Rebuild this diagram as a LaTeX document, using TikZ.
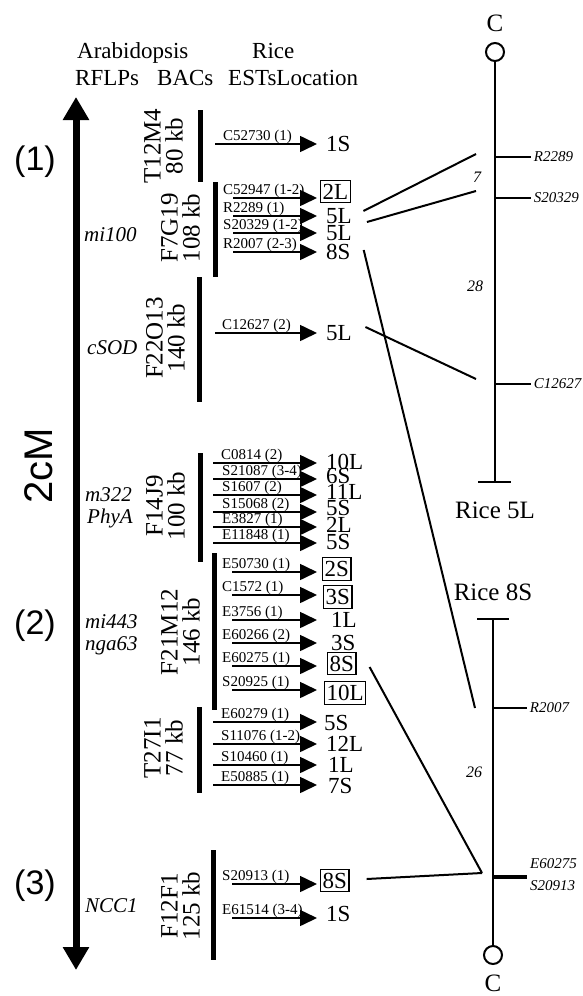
\documentclass[tikz,border=0pt]{standalone}
\usepackage{fontspec}
\setmainfont{Liberation Serif}
\newfontfamily\helvf{Liberation Sans}
\usetikzlibrary{arrows.meta}
\newcommand\fsz[1]{\fontsize{#1}{#1}\selectfont}
\newcommand\estrow[9]{%
  \coordinate (s#1) at (#2,#3);
  \coordinate (t#1) at (317,#3);
  \node[estlab] (n#1) at (#4,#3-4) {#5};
  \node[#6] (l#1) at (#7,#8) {#9};
  \draw[estarrow] (s#1) -- (t#1);
}
\begin{document}
\begin{tikzpicture}[x=1pt,y=-1pt,
  estarrow/.style={line width=1.6pt,-{Triangle[length=17pt,width=16pt]}},
  estlab/.style={anchor=base west,inner sep=0pt,font=\fsz{15}},
  locl/.style={anchor=west,inner sep=1pt,font=\fsz{23}},
  locb/.style={locl,draw,line width=1.3pt,inner xsep=2pt,inner ysep=3.5pt},
  bacbar/.style={line width=5pt},
  baclab/.style={rotate=90,anchor=south,align=center,inner sep=0pt,font=\fontsize{25}{22}\selectfont},
  connl/.style={line width=2pt},
  chromln/.style={line width=2.3pt},
  tickln/.style={line width=1.8pt},
  mklab/.style={anchor=west,inner sep=0pt,font=\fsz{15}\itshape},
  distlab/.style={inner sep=0pt,font=\fsz{16}\itshape},
  rflp/.style={anchor=west,inner sep=0pt,font=\fsz{21}\itshape},
  hdr/.style={anchor=base west,inner sep=0pt,font=\fsz{23}},
  numlab/.style={inner sep=0pt,font=\helvf\fsz{34}},
  bigt/.style={inner sep=0pt,font=\fsz{25}},
  cen/.style={circle,draw,line width=2pt,minimum size=18pt,inner sep=0pt}
]
\useasboundingbox (0,0) rectangle (582,996);

% headers
\node[hdr] (h1) at (77,58) {Arabidopsis};
\node[hdr] (h2) at (252,58) {Rice};
\node[hdr] (h3) at (75,85) {RFLPs};
\node[hdr] (h4) at (157,85) {BACs};
\node[hdr] (h5) at (228,85) {ESTsLocation};

% main genetic axis
\coordinate (axtop) at (76,97);
\coordinate (axbot) at (76,970);
\draw[line width=7pt,{Triangle[length=23pt,width=25pt]}-{Triangle[length=23pt,width=25pt]}] (axtop) -- (axbot);

\node[numlab] (num1) at (35,162) {(1)};
\node[numlab] (num2) at (35,626) {(2)};
\node[numlab] (num3) at (35,886) {(3)};
\node[inner sep=0pt,font=\helvf\fsz{40},rotate=90] (cm) at (39,466) {2cM};

% RFLPs
\node[rflp] (r1) at (84,235) {mi100};
\node[rflp] (r2) at (87,348) {cSOD};
\node[rflp] (r3) at (85,495) {m322};
\node[rflp] (r4) at (87,518) {PhyA};
\node[rflp] (r5) at (85,622) {mi443};
\node[rflp] (r6) at (85,646) {nga63};
\node[rflp] (r7) at (85,906) {NCC1};

% BAC bars
\coordinate (b1t) at (200,110); \coordinate (b1b) at (200,182);
\coordinate (b2t) at (215,182); \coordinate (b2b) at (215,277);
\coordinate (b3t) at (199,277); \coordinate (b3b) at (199,402);
\coordinate (b4t) at (200,453); \coordinate (b4b) at (200,562);
\coordinate (b5t) at (214,553); \coordinate (b5b) at (214,710);
\coordinate (b6t) at (199,707); \coordinate (b6b) at (199,793);
\coordinate (b7t) at (213,850); \coordinate (b7b) at (213,960);
\foreach \i in {1,...,7} {\draw[bacbar] (b\i t) -- (b\i b);}

% BAC labels
\node[baclab] (L1) at (183,146) {T12M4\\80 kb};
\node[baclab] (L2) at (200,228) {F7G19\\108 kb};
\node[baclab] (L3) at (185,338) {F22O13\\140 kb};
\node[baclab] (L4) at (185,506) {F14J9\\100 kb};
\node[baclab] (L5) at (200,632) {F21M12\\146 kb};
\node[baclab] (L6) at (183,748) {T27I1\\77 kb};
\node[baclab] (L7) at (200,906) {F12F1\\125 kb};

% EST rows
\estrow{1}{215}{144}{223}{C52730 (1)}{locl}{325}{144}{1S}
\estrow{2}{233}{198}{223}{C52947 (1-2)}{locb}{320}{191.5}{2L}
\estrow{3}{233}{216}{223}{R2289 (1)}{locl}{325}{216}{5L}
\estrow{4}{233}{233}{223}{S20329 (1-2)}{locl}{325}{233}{5L}
\estrow{5}{233}{252}{223}{R2007 (2-3)}{locl}{325}{252}{8S}
\estrow{6}{215}{333}{222}{C12627 (2)}{locl}{325}{333}{5L}
\estrow{7}{213}{463}{221}{C0814 (2)}{locl}{325}{462}{10L}
\estrow{8}{213}{479}{222}{S21087 (3-4)}{locl}{325}{476}{6S}
\estrow{9}{213}{495}{222}{S1607 (2)}{locl}{325}{492}{11L}
\estrow{10}{213}{512}{222}{S15068 (2)}{locl}{325}{508}{5S}
\estrow{11}{213}{527}{222}{E3827 (1)}{locl}{325}{525}{2L}
\estrow{12}{213}{543}{222}{E11848 (1)}{locl}{325}{542}{5S}
\estrow{13}{232}{572}{222}{E50730 (1)}{locb}{322}{569}{2S}
\estrow{14}{232}{595}{222}{C1572 (1)}{locb}{323}{597}{3S}
\estrow{15}{232}{620}{222}{E3756 (1)}{locl}{330}{620}{1L}
\estrow{16}{232}{643}{222}{E60266 (2)}{locl}{330}{643}{3S}
\estrow{17}{232}{666}{222}{E60275 (1)}{locb}{327}{663.5}{8S}
\estrow{18}{232}{690}{222}{S20925 (1)}{locb}{324}{693}{10L}
\estrow{19}{213}{722}{221}{E60279 (1)}{locl}{323}{723}{5S}
\estrow{20}{213}{744}{221}{S11076 (1-2)}{locl}{325}{744}{12L}
\estrow{21}{213}{765}{221}{S10460 (1)}{locl}{327}{765}{1L}
\estrow{22}{213}{785}{221}{E50885 (1)}{locl}{327}{786}{7S}
\estrow{23}{232}{884}{222}{S20913 (1)}{locb}{320}{880.5}{8S}
\estrow{24}{232}{918}{222}{E61514 (3-4)}{locl}{325}{914}{1S}

% Rice chromosome 5L
\node[bigt] (C1) at (495,23) {C};
\node[cen] (cen1) at (495,52) {};
\coordinate (e5L) at (495,482);
\draw[chromln] (cen1.south) -- (e5L);
\draw[chromln] ([xshift=-17pt]e5L) -- ([xshift=16pt]e5L);
\coordinate (k1) at (495,157);
\coordinate (k2) at (495,198);
\coordinate (k3) at (495,384);
\draw[tickln] (k1) -- ++(36,0) node[mklab,xshift=2pt] (m1) {R2289};
\draw[tickln] (k2) -- ++(36,0) node[mklab,xshift=2pt] (m2) {S20329};
\draw[tickln] (k3) -- ++(36,0) node[mklab,xshift=2pt] (m3) {C12627};
\node[distlab] (d7) at (477,177) {7};
\node[distlab] (d28) at (475,286) {28};
\node[bigt] (R5) at (495,510) {Rice 5L};

% Rice chromosome 8S
\node[bigt] (R8) at (493,592) {Rice 8S};
\coordinate (e8S) at (493,619);
\node[cen] (cen2) at (493,955) {};
\draw[chromln] (e8S) -- (cen2.north);
\draw[chromln] ([xshift=-16pt]e8S) -- ([xshift=16pt]e8S);
\coordinate (k4) at (493,708);
\coordinate (k5) at (493,877);
\draw[tickln] (k4) -- ++(34,0) node[mklab,xshift=2pt] (m4) {R2007};
\draw[line width=3.5pt] (k5) -- ++(34,0);
\node[mklab] (m5) at (530,864) {E60275};
\node[mklab] (m6) at (530,886) {S20913};
\node[distlab] (d26) at (474,772) {26};
\node[bigt] (C2) at (493,983) {C};

% connectors between EST locations and rice maps
\coordinate (p1) at (476,154);
\coordinate (p2) at (476,191);
\coordinate (p3) at (475,708);
\coordinate (p4) at (476,379);
\coordinate (p5) at (482,873);
\draw[connl] ([shift={(10.5,-5)}]l3.east) -- (p1);
\draw[connl] ([shift={(14,-11)}]l4.east) -- (p2);
\draw[connl] ([shift={(12,-2)}]l5.east) -- (p3);
\draw[connl] ([shift={(12.5,-6)}]l6.east) -- (p4);
\draw[connl] ([shift={(13,3.5)}]l17.east) -- (p5);
\draw[connl] ([shift={(17,-1.5)}]l23.east) -- (p5);
\end{tikzpicture}
\end{document}
